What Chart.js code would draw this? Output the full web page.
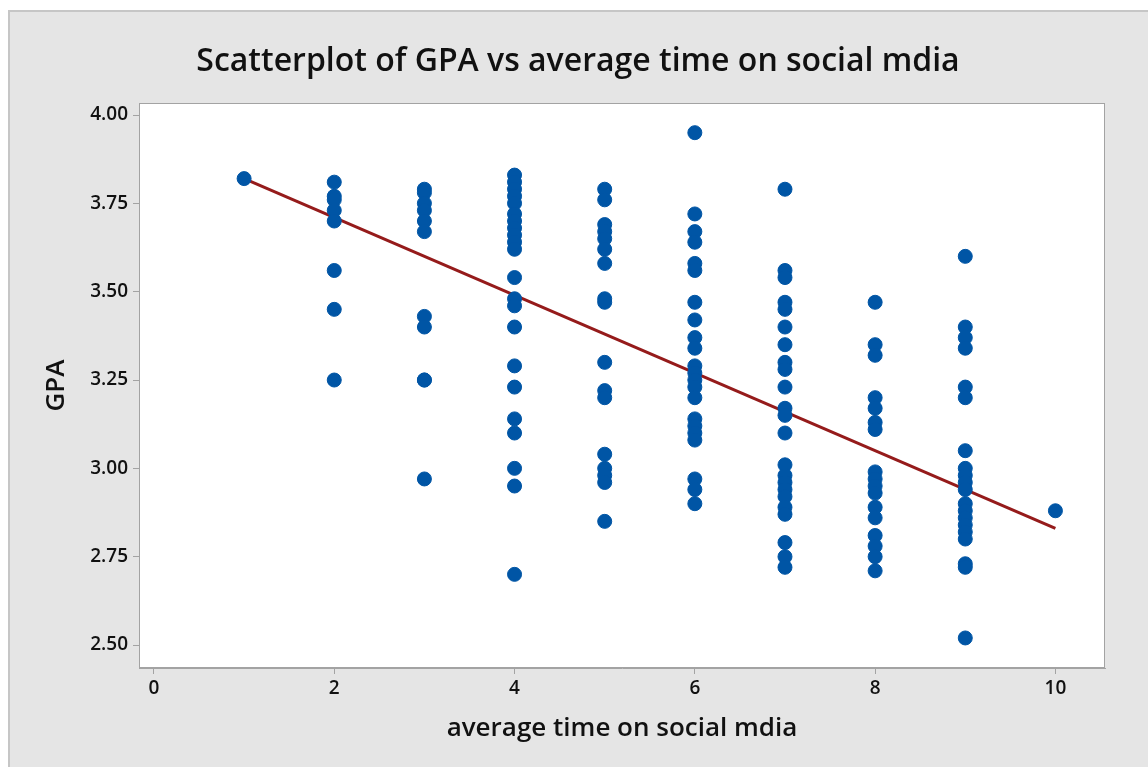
<!DOCTYPE html>
<html>
<head>
<meta charset="utf-8">
<title>Scatterplot of GPA vs average time on social mdia</title>
<script src="https://cdn.jsdelivr.net/npm/chart.js@4.4.1/dist/chart.umd.min.js"></script>
<style>
  html, body { margin: 0; padding: 0; background: #fff; overflow: hidden; }
  canvas { display: block; }
</style>
</head>
<body>
<canvas id="scatter" width="1148" height="767"></canvas>
<script>
// hours spent on social media (x) and the GPA values read for each hour
const hours = [1, 2, 3, 4, 5, 6, 7, 8, 9, 10];
const gpa1 = [3.82];
const gpa2 = [3.81, 3.77, 3.76, 3.73, 3.70, 3.56, 3.45, 3.25];
const gpa3 = [3.79, 3.78, 3.75, 3.73, 3.70, 3.67, 3.43, 3.40, 3.25, 3.25, 2.97];
const gpa4 = [3.83, 3.81, 3.79, 3.77, 3.75, 3.72, 3.70, 3.68, 3.66, 3.64, 3.62, 3.54, 3.48, 3.46, 3.40, 3.29, 3.23, 3.14, 3.10, 3.00, 2.95, 2.70];
const gpa5 = [3.79, 3.76, 3.69, 3.67, 3.65, 3.62, 3.58, 3.48, 3.47, 3.30, 3.22, 3.20, 3.04, 3.00, 2.98, 2.96, 2.85];
const gpa6 = [3.95, 3.72, 3.67, 3.64, 3.58, 3.56, 3.47, 3.42, 3.37, 3.34, 3.29, 3.27, 3.25, 3.23, 3.20, 3.14, 3.12, 3.10, 3.08, 2.97, 2.94, 2.90];
const gpa7 = [3.79, 3.56, 3.54, 3.47, 3.45, 3.40, 3.35, 3.30, 3.28, 3.23, 3.17, 3.15, 3.10, 3.01, 2.98, 2.96, 2.94, 2.92, 2.89, 2.87, 2.79, 2.75, 2.72];
const gpa8 = [3.47, 3.35, 3.32, 3.20, 3.17, 3.13, 3.11, 2.99, 2.97, 2.95, 2.93, 2.89, 2.86, 2.81, 2.78, 2.75, 2.71];
const gpa9 = [3.60, 3.40, 3.37, 3.34, 3.23, 3.20, 3.05, 3.00, 2.98, 2.96, 2.94, 2.90, 2.88, 2.86, 2.84, 2.82, 2.80, 2.73, 2.72, 2.52];
const gpa10 = [2.88];
const gpaColumns = [gpa1, gpa2, gpa3, gpa4, gpa5, gpa6, gpa7, gpa8, gpa9, gpa10];

// fitted line ends
const fitX = [1, 10];
const fitY = [3.82, 2.83];

const xTicks = [0, 2, 4, 6, 8, 10];
const yTicks = [2.50, 2.75, 3.00, 3.25, 3.50, 3.75, 4.00];

const points = [];
hours.forEach((h, i) => {
  gpaColumns[i].forEach((g) => points.push({ x: h, y: g }));
});
const fitPoints = fitX.map((x, i) => ({ x: x, y: fitY[i] }));

const FONT = "'Open Sans', 'Noto Sans', sans-serif";
const AXIS_GREY = "#a3a3a3";

// grey panel behind the chart, white plot area, frame round it
const panelPlugin = {
  id: "panel",
  beforeDraw(chart) {
    const ctx = chart.ctx;
    const a = chart.chartArea;
    ctx.save();
    ctx.fillStyle = "#fff";
    ctx.fillRect(0, 0, chart.width, chart.height);
    ctx.fillStyle = "#e5e5e5";
    ctx.fillRect(8, 10, chart.width - 8, chart.height - 10);
    ctx.strokeStyle = "#c6c6c6";
    ctx.lineWidth = 2;
    ctx.beginPath();
    ctx.moveTo(9, chart.height);
    ctx.lineTo(9, 11);
    ctx.lineTo(chart.width, 11);
    ctx.stroke();
    ctx.fillStyle = "#fff";
    ctx.fillRect(a.left, a.top, a.right - a.left, a.bottom - a.top);
    ctx.restore();
  },
  afterDraw(chart) {
    const ctx = chart.ctx;
    const a = chart.chartArea;
    ctx.save();
    ctx.strokeStyle = AXIS_GREY;
    ctx.lineWidth = 1;
    ctx.strokeRect(a.left + 0.5, a.top + 0.5, a.right - a.left - 1, a.bottom - a.top - 1);
    ctx.restore();
  }
};

new Chart(document.getElementById("scatter"), {
  type: "scatter",
  data: {
    datasets: [
      {
        label: "GPA",
        data: points,
        backgroundColor: "#0055a5",
        borderColor: "#0055a5",
        pointRadius: 7,
        pointHoverRadius: 7,
        order: 0,
      },
      {
        type: "line",
        label: "fit",
        data: fitPoints,
        borderColor: "#951b1b",
        borderWidth: 3,
        pointRadius: 0,
        fill: false,
        order: 1,
      },
    ],
  },
  options: {
    responsive: false,
    animation: false,
    devicePixelRatio: 1,
    layout: { padding: { left: 8, right: 0, top: 0, bottom: 0 } },
    plugins: {
      legend: { display: false },
      tooltip: { enabled: false },
      title: {
        display: true,
        text: "Scatterplot of GPA vs average time on social mdia",
        color: "#111",
        font: { family: FONT, size: 32, weight: "600", lineHeight: 1.2 },
        padding: { top: 43, bottom: 21.6 },
      },
    },
    scales: {
      x: {
        type: "linear",
        min: -0.166,
        max: 10.55,
        afterFit(scale) { scale.height = 99; },
        afterBuildTicks(scale) { scale.ticks = xTicks.map((v) => ({ value: v })); },
        ticks: {
          color: "#111",
          font: { family: FONT, size: 19, weight: "600" },
          padding: 3,
          maxRotation: 0,
          callback: (v) => String(v),
        },
        grid: { display: true, drawOnChartArea: false, drawTicks: true, tickLength: 6, color: AXIS_GREY },
        border: { display: true, color: AXIS_GREY },
        title: {
          display: true,
          text: "average time on social mdia",
          color: "#111",
          font: { family: FONT, size: 26, weight: "600", lineHeight: 1.2 },
          padding: { top: 0, bottom: 23 },
        },
      },
      y: {
        type: "linear",
        min: 2.435,
        max: 4.034,
        afterFit(scale) { scale.width = 131; },
        afterBuildTicks(scale) { scale.ticks = yTicks.map((v) => ({ value: v })); },
        ticks: {
          color: "#111",
          font: { family: FONT, size: 19, weight: "600" },
          padding: 5,
          callback: (v) => Number(v).toFixed(2),
        },
        grid: { display: true, drawOnChartArea: false, drawTicks: true, tickLength: 6, color: AXIS_GREY },
        border: { display: true, color: AXIS_GREY },
        title: {
          display: true,
          text: "GPA",
          color: "#111",
          font: { family: FONT, size: 26, weight: "600", lineHeight: 1.2 },
          padding: { top: 33, bottom: 0 },
        },
      },
      // empty strip on the right so the plot area stops short of the edge
      rightGap: {
        type: "linear",
        position: "right",
        afterFit(scale) { scale.width = 43; },
        ticks: { display: false },
        grid: { display: false },
        border: { display: false },
      },
    },
  },
  plugins: [panelPlugin],
});
</script>
</body>
</html>
